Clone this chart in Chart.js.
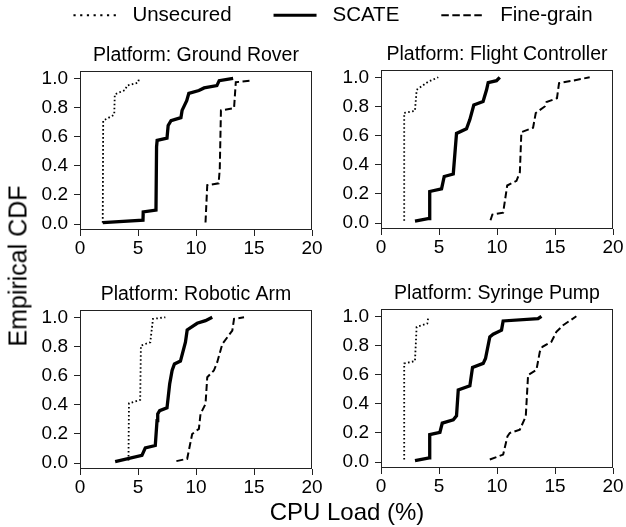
<!DOCTYPE html>
<html>
<head>
<meta charset="utf-8">
<script src="https://cdn.jsdelivr.net/npm/chart.js@4/dist/chart.umd.min.js"></script>
<style>
  html, body { margin: 0; padding: 0; background: #fff; overflow: hidden; }
  #fig { position: relative; width: 626px; height: 527px; overflow: hidden; font-family: 'Liberation Sans', Arial, sans-serif; color: #000; }
  #fig canvas { position: absolute; }
  .lbl { position: absolute; white-space: nowrap; line-height: 1; }
</style>
</head>
<body>
<div id="fig">
  <canvas id="legendCv" width="666" height="220" style="left:0;top:-37px"></canvas>
  <canvas id="c0" width="332" height="240" style="left:0;top:30px"></canvas>
  <canvas id="c1" width="325" height="240" style="left:301px;top:29px"></canvas>
  <canvas id="c2" width="332" height="240" style="left:0;top:269px"></canvas>
  <canvas id="c3" width="325" height="240" style="left:301px;top:268px"></canvas>
  <div class="lbl" style="font-size:24px;left:347px;top:512px;transform:translate(-50%,-50%)">CPU Load (%)</div>
  <div class="lbl" style="font-size:25px;left:18px;top:266px;transform:translate(-50%,-50%) rotate(-90deg)">Empirical CDF</div>
</div>
<script>
// [cpu load %, cdf]
const roverUnsecured = [[1.96,0.01],[2.0,0.71],[2.95,0.75],[3.0,0.89],[3.9,0.92],[4.05,0.95],[5.0,0.97],[5.1,1.0]];
const roverScate = [[1.96,0.01],[5.43,0.027],[5.45,0.084],[6.55,0.096],[6.6,0.53],[6.65,0.574],[7.5,0.59],[7.6,0.677],[7.85,0.71],[8.7,0.73],[8.8,0.78],[9.2,0.847],[9.38,0.897],[10.25,0.916],[10.7,0.934],[11.8,0.95],[12.0,0.984],[13.2,1.0]];
const roverFine = [[10.82,0.011],[10.97,0.267],[11.95,0.28],[12.05,0.38],[12.15,0.78],[13.28,0.795],[13.43,0.973],[14.7,0.984]];

const flightUnsecured = [[2.0,0.016],[2.0,0.756],[2.93,0.77],[3.07,0.914],[4.07,0.97],[4.94,1.0]];
const flightScate = [[2.93,0.014],[4.16,0.032],[4.2,0.217],[5.22,0.235],[5.45,0.32],[6.23,0.337],[6.51,0.615],[7.37,0.647],[7.66,0.71],[8.0,0.81],[8.8,0.834],[9.1,0.914],[9.24,0.964],[9.96,0.977],[10.24,1.0]];
const flightFine = [[9.44,0.02],[9.6,0.059],[10.53,0.072],[10.88,0.258],[11.68,0.29],[11.97,0.348],[12.1,0.624],[13.11,0.654],[13.34,0.755],[14.12,0.8],[14.26,0.83],[15.17,0.857],[15.35,0.96],[16.41,0.975],[17.99,1.0]];

const armUnsecured = [[4.18,0.018],[4.22,0.41],[5.19,0.434],[5.25,0.806],[6.06,0.829],[6.29,0.989],[7.36,1.0]];
const armScate = [[3.03,0.011],[5.34,0.053],[5.63,0.105],[6.49,0.121],[6.64,0.292],[6.7,0.338],[6.87,0.36],[7.5,0.379],[7.73,0.543],[7.94,0.635],[8.14,0.68],[8.66,0.7],[9.09,0.829],[9.24,0.913],[10.1,0.959],[10.82,0.977],[11.4,1.0]];
const armFine = [[8.31,0.014],[9.24,0.03],[9.47,0.121],[9.67,0.2],[10.25,0.235],[10.39,0.338],[10.82,0.406],[10.97,0.589],[11.54,0.635],[11.83,0.692],[12.27,0.817],[13.13,0.909],[13.28,0.989],[14.14,1.0]];

const pumpUnsecured = [[2.0,0.018],[2.0,0.677],[2.93,0.693],[3.07,0.927],[3.99,0.95],[4.07,0.99]];
const pumpScate = [[2.93,0.011],[4.16,0.03],[4.2,0.189],[5.08,0.205],[5.28,0.268],[6.23,0.291],[6.51,0.318],[6.66,0.495],[7.66,0.523],[7.89,0.65],[8.81,0.677],[9.01,0.711],[9.38,0.859],[9.67,0.877],[10.39,0.905],[10.53,0.968],[13.54,0.984],[13.83,1.0]];
const pumpFine = [[9.38,0.018],[10.53,0.052],[10.9,0.177],[11.1,0.2],[11.97,0.223],[12.48,0.314],[12.68,0.598],[13.4,0.632],[13.69,0.757],[13.92,0.791],[14.69,0.825],[15.12,0.893],[15.7,0.939],[16.84,1.0]];

const platforms = ['Ground Rover', 'Flight Controller', 'Robotic Arm', 'Syringe Pump'];
const seriesNames = ['Unsecured', 'SCATE', 'Fine-grain'];
const platformData = [
  [roverUnsecured, roverScate, roverFine],
  [flightUnsecured, flightScate, flightFine],
  [armUnsecured, armScate, armFine],
  [pumpUnsecured, pumpScate, pumpFine]
];
const xTicks = [0, 5, 10, 15, 20];
const yTicks = [0, 0.2, 0.4, 0.6, 0.8, 1.0];

// line looks
const seriesDash = [[1.6, 2.4], [], [7, 3.5]];
const seriesWidth = [1.8, 3.3, 2];
const legendDash = [[2.2, 4.5], [], [7.5, 3.5]];
const legendWidth = [2, 3, 2];
const FONT = "'Liberation Sans', Arial, sans-serif";
const INK = '#000';

const framePlugin = {
  id: 'frame',
  afterDraw(chart) {
    const a = chart.chartArea;
    const ctx = chart.ctx;
    ctx.save();
    ctx.strokeStyle = '#222';
    ctx.lineWidth = 1;
    ctx.setLineDash([]);
    const l = Math.round(a.left) + 0.5, t = Math.round(a.top) + 0.5;
    const r = Math.round(a.right) - 0.5, b = Math.round(a.bottom) - 0.5;
    ctx.strokeRect(l, t, r - l, b - t);
    ctx.restore();
  }
};

function axisGrid() {
  return { display: true, drawOnChartArea: false, drawTicks: true, tickLength: 6, tickColor: '#222', tickWidth: 1 };
}

function makePanel(id, idx, padRight) {
  const datasets = platformData[idx].map((pts, s) => ({
    label: seriesNames[s],
    data: pts.map(p => ({ x: p[0], y: p[1] })),
    borderColor: INK,
    borderWidth: seriesWidth[s],
    borderDash: seriesDash[s],
    pointRadius: 0,
    tension: 0,
    fill: false
  }));
  return new Chart(document.getElementById(id), {
    type: 'line',
    data: { datasets },
    options: {
      responsive: false,
      animation: false,
      devicePixelRatio: 1,
      layout: { padding: { top: 14.2, right: padRight, bottom: 0, left: 0 } },
      plugins: {
        legend: { display: false },
        tooltip: { enabled: false }
      },
      scales: {
        x: {
          type: 'linear',
          min: 0, max: 20,
          grid: axisGrid(),
          border: { display: false },
          afterBuildTicks: s => { s.ticks = xTicks.map(v => ({ value: v })); },
          afterFit: s => { s.height = 40; },
          ticks: { color: INK, padding: 1, maxRotation: 0, font: { family: FONT, size: 19 }, callback: v => String(v) }
        },
        // panel title sits on an empty top axis so it centres over the plot area
        top: {
          type: 'linear',
          position: 'top',
          min: 0, max: 20,
          grid: { display: false, drawTicks: false },
          border: { display: false },
          ticks: { display: false },
          afterFit: s => { s.height = 26.8; },
          title: {
            display: true,
            text: 'Platform: ' + platforms[idx],
            color: INK,
            font: { family: FONT, size: 19.5, weight: 'normal', lineHeight: 1.2 },
            padding: { top: 0, bottom: 4 }
          }
        },
        y: {
          type: 'linear',
          min: -0.04, max: 1.05,
          grid: axisGrid(),
          border: { display: false },
          afterBuildTicks: s => { s.ticks = yTicks.map(v => ({ value: v })); },
          afterFit: s => { s.width = 80; },
          ticks: { color: INK, padding: 6, font: { family: FONT, size: 19 }, callback: v => Number(v).toFixed(1) }
        }
      }
    },
    plugins: [framePlugin]
  });
}

makePanel('c0', 0, 20);
makePanel('c1', 1, 13);
makePanel('c2', 2, 20);
makePanel('c3', 3, 13);

// figure legend on its own canvas
new Chart(document.getElementById('legendCv'), {
  type: 'line',
  data: { datasets: [] },
  options: {
    responsive: false,
    animation: false,
    devicePixelRatio: 1,
    scales: { x: { display: false }, y: { display: false } },
    plugins: {
      tooltip: { enabled: false },
      legend: {
        display: true,
        position: 'top',
        labels: {
          color: INK,
          font: { family: FONT, size: 20.5 },
          padding: 42,
          usePointStyle: true,
          pointStyleWidth: 43,
          generateLabels: () => seriesNames.map((n, s) => ({
            text: ' ' + n,
            fillStyle: INK,
            strokeStyle: INK,
            lineWidth: legendWidth[s],
            lineDash: legendDash[s],
            lineCap: 'butt',
            pointStyle: 'line',
            hidden: false,
            datasetIndex: s
          }))
        }
      }
    }
  }
});
</script>
</body>
</html>
